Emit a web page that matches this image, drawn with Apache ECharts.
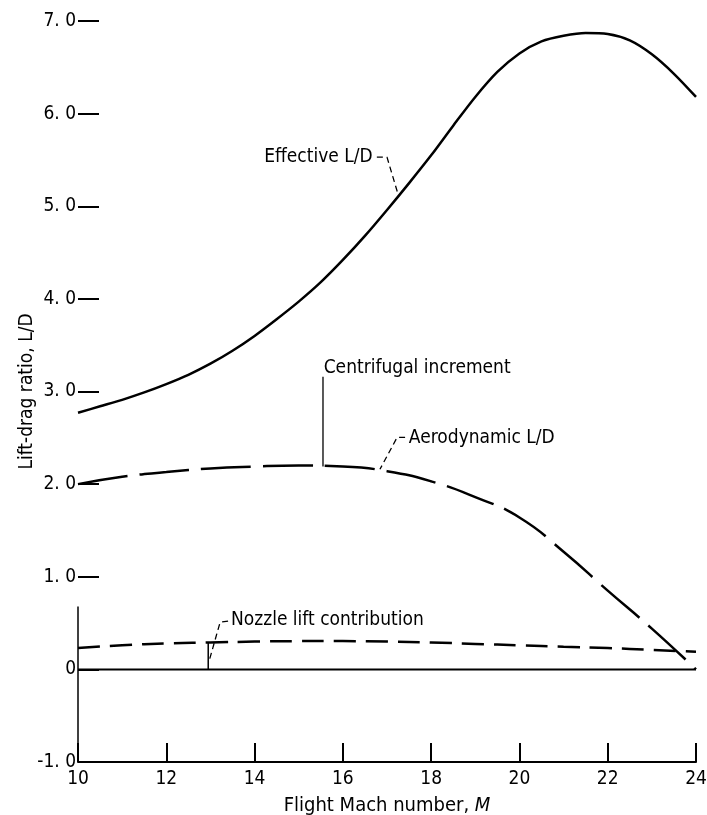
<!DOCTYPE html>
<html>
<head>
<meta charset="utf-8">
<script src="https://cdn.jsdelivr.net/npm/echarts@6/dist/echarts.min.js"></script>
<style>
html,body{margin:0;padding:0;background:#fff;}
#chart{width:707px;height:815px;}
</style>
</head>
<body>
<div id="chart"></div>
<script>
// ---- data ----
const xTickValues = [10, 12, 14, 16, 18, 20, 22, 24];
const xTickLabels = ['10', '12', '14', '16', '18', '20', '22', '24'];
const yTickValues = [-1, 0, 1, 2, 3, 4, 5, 6, 7];
const yTickLabels = ['-1. 0', '0', '1. 0', '2. 0', '3. 0', '4. 0', '5. 0', '6. 0', '7. 0'];

const machEff = [10,10.5,11,11.5,12,12.5,13,13.5,14,14.5,15,15.5,16,16.5,17,17.5,18,18.5,19,19.5,20,20.5,21,21.5,22,22.5,23,23.5,24];
const effectiveLD = [2.77,2.84,2.91,2.99,3.08,3.18,3.30,3.44,3.60,3.78,3.97,4.18,4.42,4.68,4.96,5.25,5.55,5.87,6.18,6.45,6.65,6.78,6.84,6.87,6.86,6.79,6.64,6.43,6.18];

const machAero = [10,11,12,13,14,15,16,17,18,19,20,21,22,23,24];
const aerodynamicLD = [2.0,2.08,2.13,2.17,2.19,2.2,2.19,2.14,2.03,1.86,1.64,1.27,0.85,0.44,0.0];

const machNozzle = [10,11,12,13,14,15,16,17,18,19,20,21,22,23,24];
const nozzleLift = [0.23,0.26,0.28,0.29,0.30,0.305,0.305,0.30,0.29,0.275,0.26,0.245,0.23,0.21,0.19];

const zeroLine = [[10,0],[24,0]];
const leftAxisStub = [[10,-1],[10,0.68]];

// annotation leaders (data coordinates)
const effLeader = [[16.77,5.53],[17.0,5.53],[17.25,5.13]];
const aeroLeader = [[17.41,2.505],[17.23,2.505],[16.84,2.16]];
const nozzleLeader = [[13.40,0.52],[13.22,0.51],[12.97,0.09]];
const centrifugalLeader = [[15.55,2.19],[15.55,3.16]];
const nozzleIncrement = [[12.95,0],[12.95,0.29]];

const annotations = [
  {name: 'Effective L/D', at: [16.72, 5.53], pos: 'left'},
  {name: 'Aerodynamic L/D', at: [17.45, 2.50], pos: 'right'},
  {name: 'Nozzle lift contribution', at: [13.42, 0.53], pos: 'right'},
  {name: 'Centrifugal increment', at: [15.52, 3.25], pos: 'right'}
];

const FONT = "'Liberation Sans Narrow', 'DejaVu Sans Condensed', 'Roboto', sans-serif";

const zip = (xs, ys) => xs.map((x, i) => [x, ys[i]]);

const chart = echarts.init(document.getElementById('chart'), null, {renderer: 'canvas'});

function lineSeries(data, width, type, smooth) {
  return {
    type: 'line', data: data, showSymbol: false, symbol: 'none', smooth: smooth || false,
    silent: true, z: 3,
    lineStyle: {color: '#000', width: width, type: type || 'solid', cap: 'butt'}
  };
}

const option = {
  animation: false,
  backgroundColor: '#fff',
  grid: {left: 78, right: 11, top: 21, bottom: 53, containLabel: false, outerBoundsMode: 'none'},
  xAxis: {
    type: 'value', min: 10, max: 24, interval: 2,
    name: 'Flight Mach number, {i|M}', nameLocation: 'middle', nameGap: 34, nameMoveOverlap: false,
    nameTextStyle: {fontFamily: FONT, fontSize: 20, color: '#000',
      rich: {i: {fontFamily: FONT, fontSize: 20, fontStyle: 'italic', color: '#000'}}},
    axisLine: {show: true, onZero: false, lineStyle: {color: '#000', width: 2}},
    axisTick: {show: true, inside: true, length: 19, lineStyle: {color: '#000', width: 2}},
    axisLabel: {
      fontFamily: FONT, fontSize: 19, color: '#000', margin: 8,
      formatter: v => { const i = xTickValues.indexOf(v); return i >= 0 ? xTickLabels[i] : ''; }
    },
    splitLine: {show: false}
  },
  yAxis: {
    type: 'value', min: -1, max: 7, interval: 1,
    name: 'Lift-drag ratio, L/D', nameLocation: 'middle', nameGap: 41, nameMoveOverlap: false,
    nameTextStyle: {fontFamily: FONT, fontSize: 19, color: '#000'},
    axisLine: {show: false},
    axisTick: {show: true, inside: true, length: 21, lineStyle: {color: '#000', width: 2}},
    axisLabel: {
      fontFamily: FONT, fontSize: 19, color: '#000', margin: 2,
      formatter: v => { const i = yTickValues.indexOf(v); return i >= 0 ? yTickLabels[i] : ''; }
    },
    splitLine: {show: false}
  },
  series: [
    lineSeries(zip(machEff, effectiveLD), 2.5, 'solid', 0.3),
    lineSeries(zip(machAero, aerodynamicLD), 2.5, [50, 12], 0.5),
    lineSeries(zip(machNozzle, nozzleLift), 2.5, [22, 10], 0.5),
    lineSeries(zeroLine, 2, 'solid'),
    lineSeries(leftAxisStub, 1.5, 'solid'),
    lineSeries(effLeader, 1.3, [6, 4]),
    lineSeries(aeroLeader, 1.3, [6, 4]),
    lineSeries(nozzleLeader, 1.3, [6, 4]),
    lineSeries(centrifugalLeader, 1.3, 'solid'),
    lineSeries(nozzleIncrement, 1.5, 'solid'),
    {
      type: 'scatter', silent: true, symbol: 'circle', symbolSize: 0,
      itemStyle: {color: '#000'},
      data: annotations.map(a => ({
        value: a.at, name: a.name,
        label: {show: true, position: a.pos, distance: 2, formatter: a.name,
                fontFamily: FONT, fontSize: 19, color: '#000', opacity: 1, textBorderWidth: 0}
      }))
    }
  ]
};
chart.setOption(option);
</script>
</body>
</html>
